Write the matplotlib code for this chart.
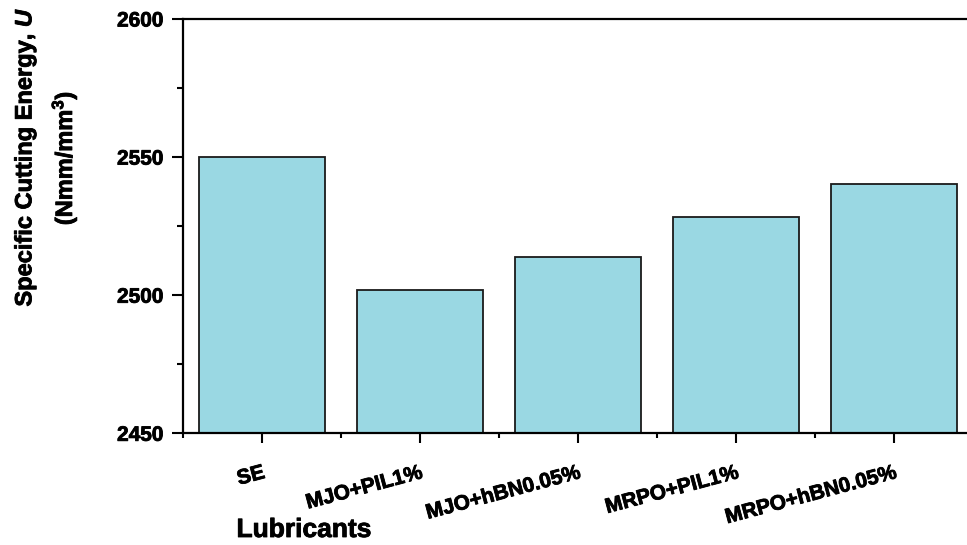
import matplotlib
matplotlib.use("Agg")
import matplotlib.pyplot as plt
import matplotlib.patheffects as pe
from matplotlib.ticker import MultipleLocator, FixedLocator

plt.rcParams['font.family'] = ['Liberation Sans', 'DejaVu Sans']
plt.rcParams['font.weight'] = 'bold'
plt.rcParams['mathtext.fontset'] = 'custom'
plt.rcParams['mathtext.rm'] = 'Liberation Sans:bold'
plt.rcParams['mathtext.it'] = 'Liberation Sans:bold:italic'
plt.rcParams['mathtext.bf'] = 'Liberation Sans:bold'

lubricants = ["SE", "MJO+PIL1%", "MJO+hBN0.05%", "MRPO+PIL1%", "MRPO+hBN0.05%"]
energy = [2550.0, 2501.8, 2513.7, 2528.2, 2540.3]
y_ticks = [2450, 2500, 2550, 2600]

# slightly heavier strokes for the bold labels
heavy = [pe.withStroke(linewidth=0.6, foreground="black")]

fig = plt.figure(figsize=(9.67, 5.45), dpi=100)
# axes run slightly past the right edge of the canvas
ax = fig.add_axes([183 / 967, 1 - 433.3 / 545, 790 / 967, (433.3 - 19) / 545])

x = list(range(len(lubricants)))
ax.bar(x, energy, width=0.8, bottom=0, color="#9ad8e3",
       edgecolor="#1a1a1a", linewidth=1.3, zorder=2)

ax.set_xlim(-0.5, len(lubricants) - 0.5)
ax.set_ylim(2450, 2600)
ax.set_yticks(y_ticks)
ax.yaxis.set_minor_locator(MultipleLocator(25))
ax.set_xticks(x)
ax.xaxis.set_minor_locator(FixedLocator([i + 0.5 for i in range(-1, len(lubricants))]))

ax.set_xticklabels(lubricants, rotation=15, ha="right", rotation_mode="anchor",
                   fontsize=15, fontweight="bold")
for lab in ax.get_xticklabels():
    lab.set_path_effects(heavy)
for lab in ax.get_yticklabels():
    lab.set_fontsize(15)
    lab.set_fontweight("bold")
    lab.set_path_effects(heavy)

ax.tick_params(axis="y", which="major", direction="out", length=8, width=1.5, pad=6)
ax.tick_params(axis="y", which="minor", direction="out", length=4.5, width=1.5)
ax.tick_params(axis="x", which="major", direction="out", length=7.5, width=1.5, pad=14)
ax.tick_params(axis="x", which="minor", direction="out", length=3.5, width=1.5)

for side in ("left", "bottom", "top"):
    ax.spines[side].set_linewidth(1.6)
ax.spines["right"].set_visible(False)

fig.text(304 / 967, 1 - 530 / 545, "Lubricants", ha="center", va="center",
         fontsize=19, fontweight="bold", path_effects=heavy)
fig.text(25 / 967, 1 - 157 / 545, r"Specific Cutting Energy, $\mathit{U}$",
         rotation=90, ha="center", va="center", fontsize=17, fontweight="bold",
         path_effects=heavy)
fig.text(64 / 967, 1 - 158 / 545, r"(Nmm/mm$^{3}$)",
         rotation=90, ha="center", va="center", fontsize=17, fontweight="bold",
         path_effects=heavy)

fig.savefig("out.png", dpi=100)
